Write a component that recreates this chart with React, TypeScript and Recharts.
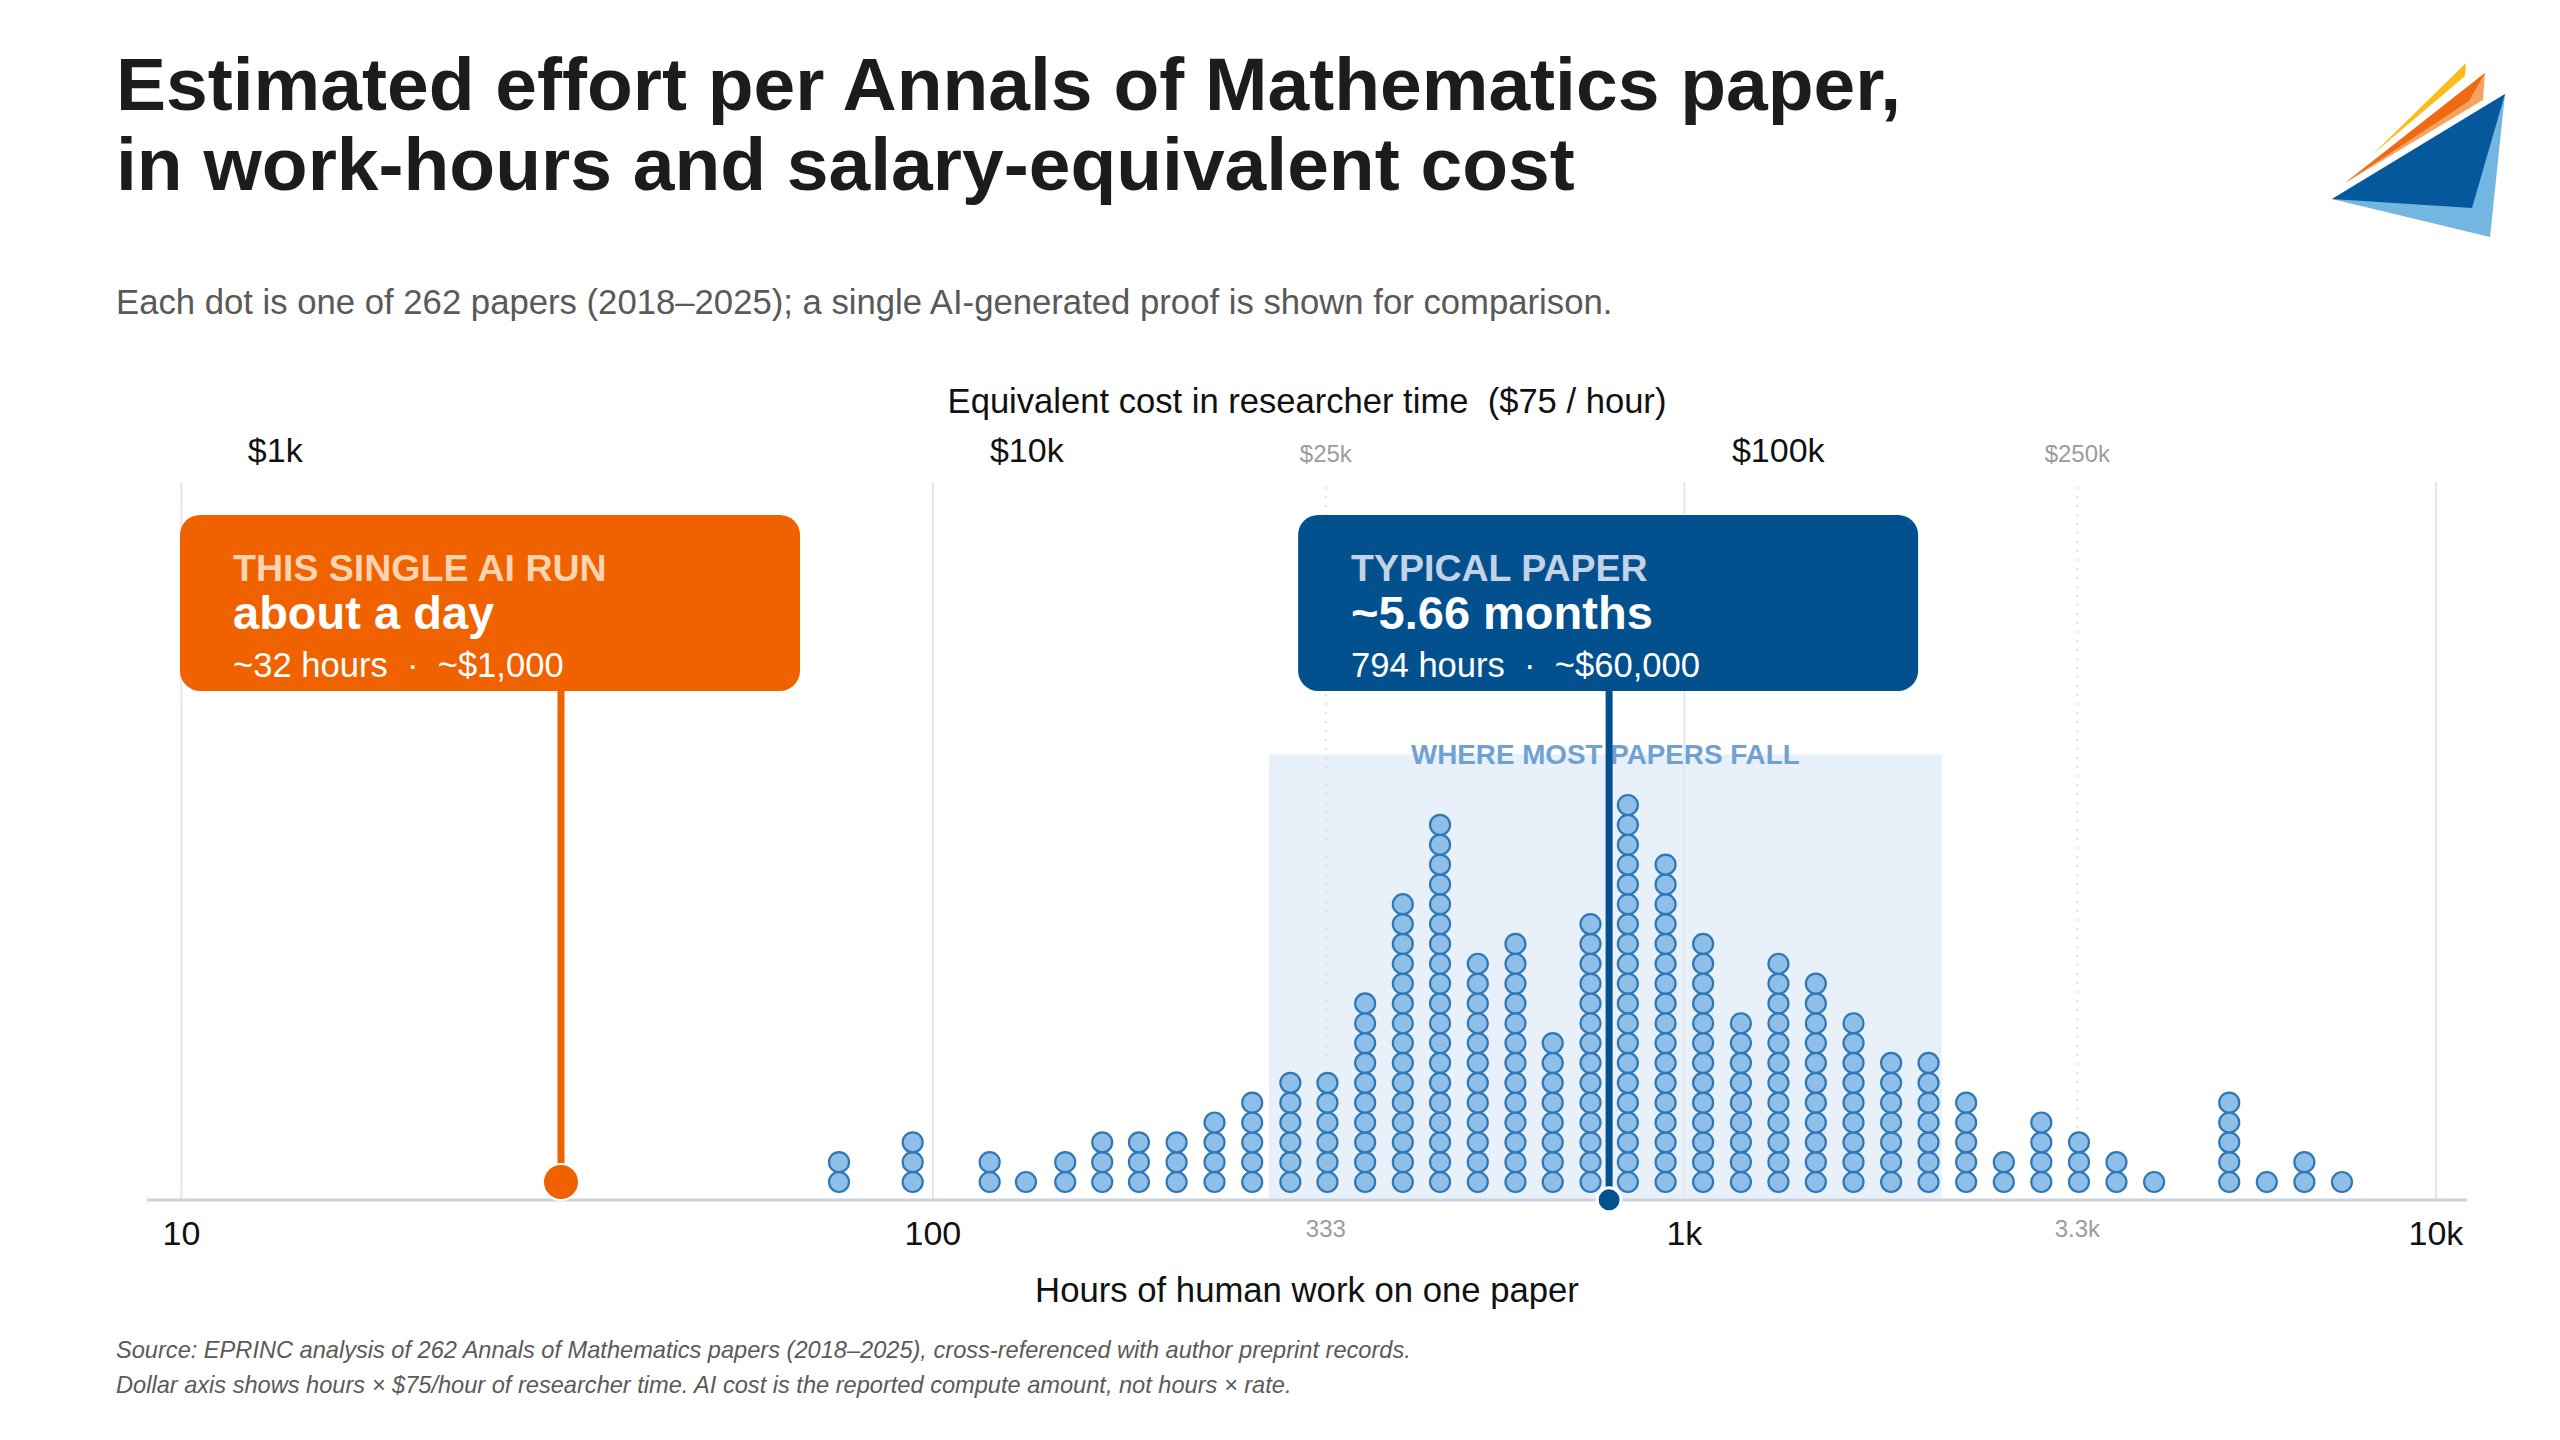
import React from 'react';
import {
  ScatterChart,
  Scatter,
  XAxis,
  YAxis,
  ReferenceLine,
  ReferenceArea,
  ReferenceDot,
} from 'recharts';

// Dot-plot bins: centre of each 0.05-decade bin (hours) and number of papers in it
const binHours = [
  75, 94, 119, 133, 150, 168, 188, 211, 237, 266, 299, 335, 376, 422, 473, 531, 596, 668, 750,
  841, 944, 1059, 1189, 1334, 1496, 1679, 1884, 2113, 2371, 2661, 2985, 3350, 3758, 4217, 5309,
  5957, 6683, 7499,
];
const binCounts = [
  2, 3, 2, 1, 2, 3, 3, 3, 4, 5, 6, 6, 10, 15, 19, 12, 13, 8, 14, 20, 17, 13, 9, 12, 11, 9, 7, 7,
  5, 2, 4, 3, 2, 1, 5, 1, 2, 1,
];

// bottom axis (hours)
const hourTicks = [10, 100, 333.33, 1000, 3333.33, 10000];
const hourTickLabels = ['10', '100', '333', '1k', '3.3k', '10k'];
const majorHours = [10, 100, 1000, 10000];
const minorHours = [333.33, 3333.33];

// top axis (dollars at $75 / hour)
const HOURLY_RATE = 75;
const dollarTicks = [1000, 10000, 25000, 100000, 250000];
const dollarTickLabels = ['$1k', '$10k', '$25k', '$100k', '$250k'];
const majorDollars = [1000, 10000, 100000];

// annotations
const aiRunHours = 32;
const typicalHours = 794;
const spreadHours = [280, 2200];

const ORANGE = '#f06200';
const BLUE = '#03508f';
const FONT = '"Liberation Sans", Arial, Helvetica, sans-serif';

const Y_MIN = -0.907;
const Y_MAX = 35.28;
const CALLOUT_Y = 24.75;
const SPREAD_TOP = 21.55;

const dots = binHours.flatMap((h, i) =>
  Array.from({ length: binCounts[i] }, (_, k) => ({ hours: h, stack: k }))
);

const PaperDot = (p: any) => (
  <circle cx={p.cx} cy={p.cy} r={10} fill="#8dbfe8" stroke="#2f77b5" strokeWidth={2.2} />
);

const HourTick = ({ x, y, payload, index }: any) => {
  const major = majorHours.includes(payload.value);
  return (
    <text
      x={x}
      y={y + (major ? 45 : 37)}
      textAnchor="middle"
      fontSize={major ? 34 : 24}
      fill={major ? '#111' : '#9c9c9c'}
    >
      {hourTickLabels[index]}
    </text>
  );
};

const DollarTick = ({ x, y, index }: any) => {
  const major = majorDollars.includes(dollarTicks[index]);
  return (
    <text
      x={x}
      y={y - 20}
      textAnchor="middle"
      fontSize={major ? 34 : 24}
      fill={major ? '#111' : '#9c9c9c'}
    >
      {dollarTickLabels[index]}
    </text>
  );
};

const Callout = ({ viewBox, offsetX, color, kickerColor, kicker, headline, detail }: any) => {
  const left = viewBox.x + offsetX;
  const top = viewBox.y - 176;
  return (
    <g>
      <rect x={left} y={top} width={620} height={176} rx={20} ry={20} fill={color} />
      <text x={left + 53} y={top + 66} fontSize={37.5} fontWeight="bold" fill={kickerColor}>
        {kicker}
      </text>
      <text x={left + 53} y={top + 114} fontSize={47} fontWeight="bold" fill="#fff">
        {headline}
      </text>
      <text x={left + 53} y={top + 162} fontSize={34.6} fill="#fff" style={{ whiteSpace: 'pre' }}>
        {detail}
      </text>
    </g>
  );
};

const SpreadLabel = ({ viewBox }: any) => (
  <text
    x={viewBox.x + viewBox.width / 2}
    y={viewBox.y + 10}
    textAnchor="middle"
    fontSize={27.8}
    fontWeight="bold"
    fill="#6fa2d3"
  >
    WHERE MOST PAPERS FALL
  </text>
);

const Logo = () => (
  <svg
    width={2560}
    height={300}
    style={{ position: 'absolute', left: 0, top: 0, pointerEvents: 'none' }}
  >
    <polygon points="2332,199 2505,94 2490,237" fill="#74b6e2" />
    <polygon points="2332,199 2505,94 2472,208" fill="#05589c" />
    <polygon points="2345,183 2485,73 2483,100" fill="#f7a263" />
    <polygon points="2345,183 2485,73 2469,101" fill="#f06a12" />
    <polygon points="2372,155 2466,63 2465,76" fill="#fbbb18" />
  </svg>
);

export default function App() {
  return (
    <div
      style={{
        position: 'absolute',
        left: 0,
        top: 0,
        width: 2560,
        height: 1440,
        background: '#fff',
        fontFamily: FONT,
      }}
    >
      <ScatterChart
        width={2560}
        height={1440}
        margin={{ top: 442, right: 93, bottom: 180, left: 147 }}
      >
        <XAxis
          xAxisId="hours"
          type="number"
          dataKey="hours"
          scale="log"
          domain={[9, 11000]}
          allowDataOverflow
          ticks={hourTicks}
          interval={0}
          tick={<HourTick />}
          tickLine={false}
          tickSize={0}
          tickMargin={0}
          axisLine={{ stroke: '#c9d4e1', strokeWidth: 3 }}
          height={60}
        />
        <XAxis
          xAxisId="dollars"
          orientation="top"
          type="number"
          dataKey="hours"
          scale="log"
          domain={[9, 11000]}
          allowDataOverflow
          ticks={dollarTicks.map((d) => d / HOURLY_RATE)}
          interval={0}
          tick={<DollarTick />}
          tickLine={false}
          tickSize={0}
          tickMargin={0}
          axisLine={false}
          height={40}
        />
        <YAxis type="number" dataKey="stack" domain={[Y_MIN, Y_MAX]} allowDataOverflow hide />

        <ReferenceArea
          xAxisId="hours"
          x1={spreadHours[0]}
          x2={spreadHours[1]}
          y1={Y_MIN}
          y2={SPREAD_TOP}
          fill="#e8f0fa"
          fillOpacity={1}
          stroke="none"
          label={(p: any) => <SpreadLabel viewBox={p.viewBox} />}
        />

        {majorHours.map((h) => (
          <ReferenceLine key={h} xAxisId="hours" x={h} stroke="#e2e7ee" strokeWidth={2} />
        ))}
        {minorHours.map((h) => (
          <ReferenceLine
            key={h}
            xAxisId="hours"
            x={h}
            stroke="#dedede"
            strokeWidth={2}
            strokeDasharray="2 7"
          />
        ))}

        <Scatter
          xAxisId="hours"
          data={dots}
          dataKey="stack"
          shape={PaperDot}
          isAnimationActive={false}
        />

        <ReferenceLine
          xAxisId="hours"
          segment={[
            { x: aiRunHours, y: 0 },
            { x: aiRunHours, y: CALLOUT_Y },
          ]}
          stroke={ORANGE}
          strokeWidth={7}
          label={(p: any) => (
            <Callout
              viewBox={p.viewBox}
              offsetX={-381}
              color={ORANGE}
              kickerColor="#fdd3b0"
              kicker="THIS SINGLE AI RUN"
              headline="about a day"
              detail={'~32 hours  \u00b7  ~$1,000'}
            />
          )}
        />
        <ReferenceDot xAxisId="hours" x={aiRunHours} y={0} r={18} fill={ORANGE} stroke="#fff" strokeWidth={2} />

        <ReferenceLine
          xAxisId="hours"
          segment={[
            { x: typicalHours, y: -0.9 },
            { x: typicalHours, y: CALLOUT_Y },
          ]}
          stroke={BLUE}
          strokeWidth={7}
          label={(p: any) => (
            <Callout
              viewBox={p.viewBox}
              offsetX={-311}
              color={BLUE}
              kickerColor="#c3d2e4"
              kicker="TYPICAL PAPER"
              headline="~5.66 months"
              detail={'794 hours  \u00b7  ~$60,000'}
            />
          )}
        />
        <ReferenceDot xAxisId="hours" x={typicalHours} y={-0.9} r={12} fill={BLUE} stroke="#fff" strokeWidth={3} />
      </ScatterChart>

      <svg
        width={2560}
        height={1440}
        style={{ position: 'absolute', left: 0, top: 0, pointerEvents: 'none' }}
      >
        <text x={116} y={110} fontSize={75} fontWeight="bold" fill="#1c1c1c">
          Estimated effort per Annals of Mathematics paper,
        </text>
        <text x={116} y={190} fontSize={75} fontWeight="bold" fill="#1c1c1c">
          in work-hours and salary-equivalent cost
        </text>
        <text x={116} y={314} fontSize={34.7} fill="#595959">
          Each dot is one of 262 papers (2018–2025); a single AI-generated proof is shown for comparison.
        </text>
        <text x={1307} y={413} fontSize={34.6} fill="#111" textAnchor="middle" style={{ whiteSpace: 'pre' }}>
          Equivalent cost in researcher time  ($75 / hour)
        </text>
        <text x={1307} y={1302} fontSize={34.7} fill="#111" textAnchor="middle">
          Hours of human work on one paper
        </text>
        <text x={116} y={1358} fontSize={23.6} fontStyle="italic" fill="#5a5a5a">
          Source: EPRINC analysis of 262 Annals of Mathematics papers (2018–2025), cross-referenced with author preprint records.
        </text>
        <text x={116} y={1393} fontSize={23.6} fontStyle="italic" fill="#5a5a5a">
          Dollar axis shows hours × $75/hour of researcher time. AI cost is the reported compute amount, not hours × rate.
        </text>
      </svg>
      <Logo />
    </div>
  );
}
